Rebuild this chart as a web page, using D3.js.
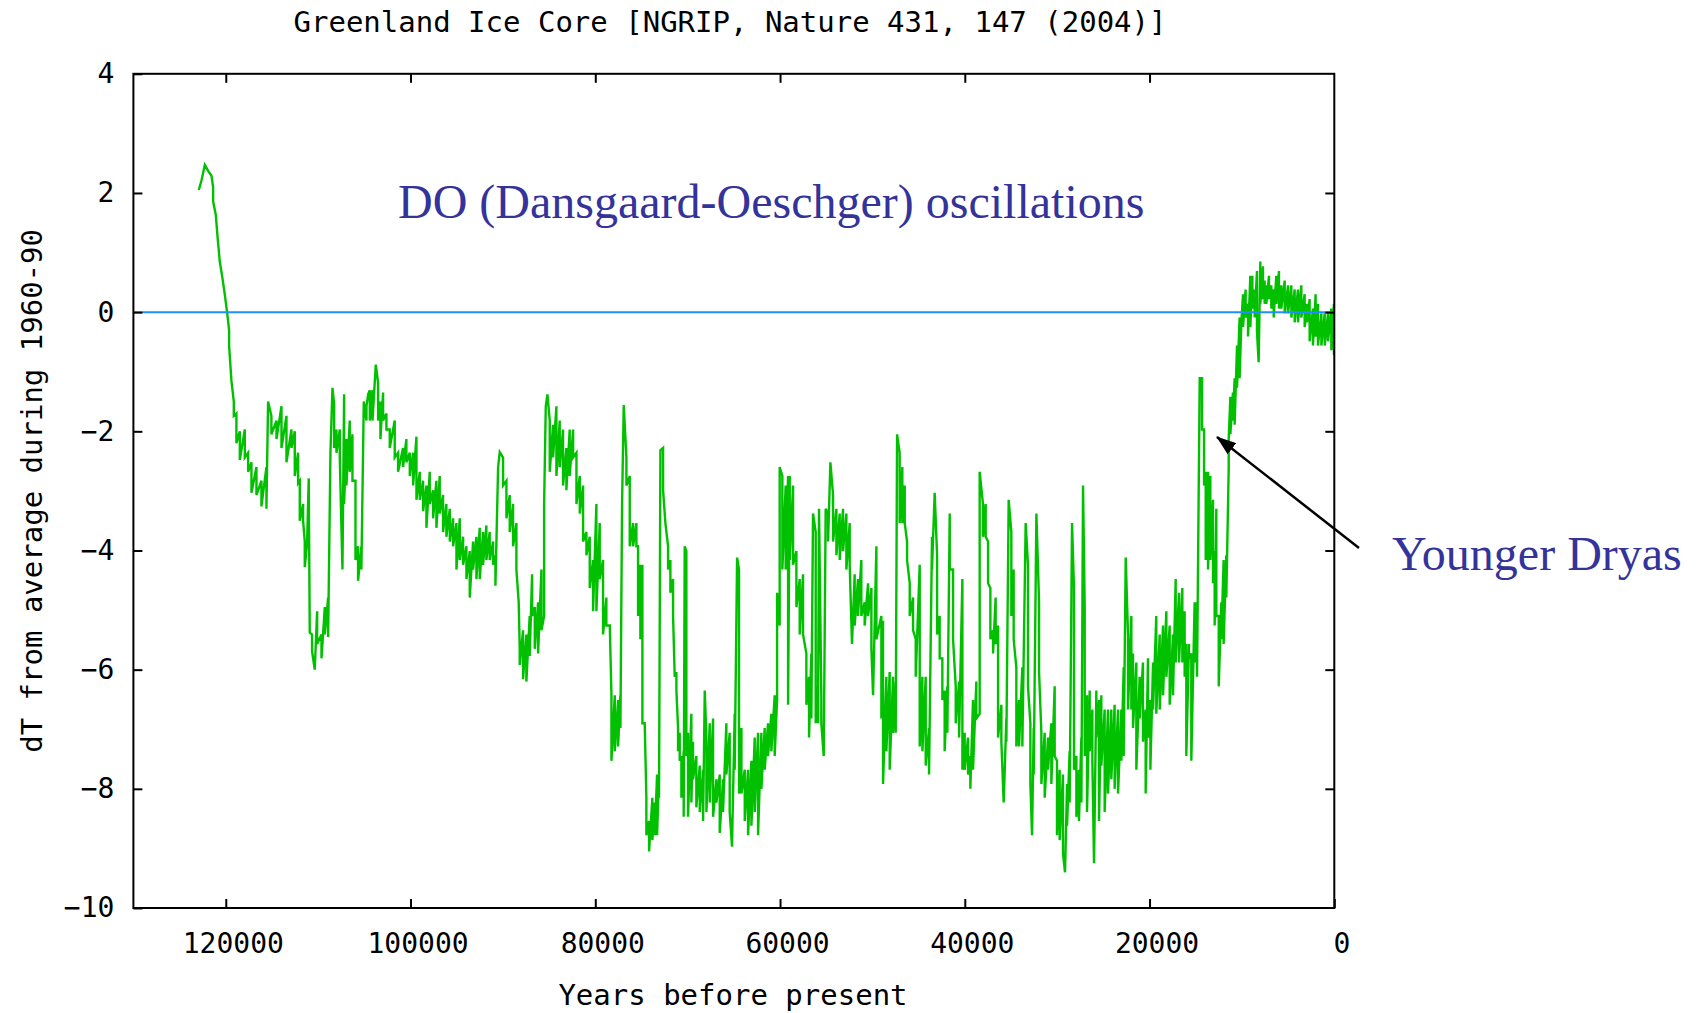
<!DOCTYPE html>
<html>
<head>
<meta charset="utf-8">
<script src="https://cdn.jsdelivr.net/npm/d3@7"></script>
<style>
  body { margin: 0; background: #fff; }
  svg { display: block; }
</style>
</head>
<body>
<svg id="chart" width="1701" height="1013"></svg>
<script>
// tick values for both axes
const xTicks = [120000, 100000, 80000, 60000, 40000, 20000, 0];
const yTicks = [4, 2, 0, -2, -4, -6, -8, -10];

// NGRIP record: [years before present, dT, (dT again where the trace swings)]
const dtSamples = [
  [122920, 2.05], [122630, 2.21], [122270, 2.47], [121910, 2.37], [121550, 2.29],
  [121370, 2.10, 1.86], [121080, 1.63], [120900, 1.28], [120650, 0.85], [120360, 0.57],
  [120110, 0.30], [119860, 0.0], [119640, -0.30, -0.56], [119390, -1.15], [119130, -1.50, -1.74],
  [118850, -1.70, -2.20], [118480, -2.00, -2.48], [117940, -1.97, -2.44], [117580, -2.36, -2.68],
  [117220, -2.52, -3.03], [116680, -2.60, -3.07], [116140, -2.83, -3.26], [115600, -2.60, -3.30],
  [115420, -1.50], [115060, -1.74, -2.05], [114510, -1.82, -2.13], [113970, -1.58, -2.28],
  [113430, -1.74, -2.52], [112890, -1.97, -2.28], [112530, -2.00, -2.75], [112170, -2.36, -2.87],
  [111990, -2.83, -3.50], [111630, -3.22, -3.50], [111450, -3.85, -4.28], [111200, -3.89],
  [111020, -2.79], [110910, -5.38], [110660, -5.41, -5.69], [110370, -6.00], [110110, -5.02, -5.57],
  [109640, -5.41, -5.81], [109280, -4.95, -5.41], [108920, -4.79, -5.45], [108670, -2.36],
  [108450, -1.27], [108270, -1.54, -2.28], [108020, -1.97, -2.36], [107660, -1.97, -2.44],
  [107370, -4.32], [107190, -1.38, -3.22], [106940, -2.13, -2.91], [106580, -1.82, -2.68],
  [106290, -2.05, -2.83], [105960, -2.83, -4.16], [105680, -3.93, -4.51], [105320, -3.93, -4.32],
  [105060, -1.50], [104770, -1.82, -1.58], [104590, -1.38], [104410, -1.31, -1.82],
  [104120, -1.31, -1.82], [103760, -0.88], [103510, -1.19, -1.82], [103260, -1.50, -2.13],
  [102970, -1.35, -1.82], [102610, -1.70, -1.97], [102250, -1.97, -2.28], [101710, -1.82, -2.44],
  [101350, -2.36, -2.68], [100810, -2.28, -2.60], [100450, -2.13, -2.52], [100080, -2.36, -2.75],
  [99720, -2.36, -2.91], [99360, -2.09, -3.15], [99000, -2.68, -3.15], [98640, -2.83, -3.34],
  [98280, -2.91, -3.62], [97920, -2.68, -3.22], [97560, -2.99, -3.46], [97200, -2.83, -3.62],
  [96840, -2.75, -3.38], [96480, -3.07, -3.69], [96120, -3.22, -3.77], [95750, -3.30, -3.85],
  [95390, -3.46, -3.93], [95030, -3.54, -4.32], [94670, -3.46, -4.16], [94310, -3.77, -4.24],
  [93950, -3.93, -4.48], [93590, -4.01, -4.79], [93230, -3.85, -4.32], [92870, -3.77, -4.48],
  [92510, -3.62, -4.48], [92150, -3.69, -4.24], [91790, -3.58, -4.16], [91430, -3.69, -4.16],
  [91060, -3.85, -4.24], [90810, -4.08, -4.59], [90520, -2.60], [90340, -2.35],
  [89980, -2.44, -2.91], [89620, -2.83, -3.46], [89260, -3.07, -3.69], [88900, -3.22, -3.93],
  [88540, -3.54, -4.32], [88290, -4.87], [88180, -5.65, -5.92], [87820, -5.34, -6.16],
  [87460, -5.41, -6.20], [87100, -5.10, -5.77], [86840, -4.40, -5.10], [86550, -4.95, -5.65],
  [86190, -4.87, -5.73], [85830, -4.32, -5.34], [85540, -5.10, -3.22], [85360, -1.58],
  [85180, -1.38], [84930, -1.82, -2.68], [84570, -1.89, -2.44], [84210, -1.58, -2.75],
  [83850, -1.82, -2.60], [83490, -1.97, -2.91], [83130, -2.28, -2.99], [82770, -1.97, -2.75],
  [82400, -1.97, -2.44], [82040, -2.36, -3.22], [81680, -2.75, -3.38], [81320, -2.91, -3.85],
  [80960, -3.69, -4.08], [80600, -3.77, -4.63], [80240, -4.16, -5.02], [79880, -3.22, -5.02],
  [79520, -3.54, -4.48], [79160, -4.16, -5.41], [78800, -4.79, -5.26], [78430, -5.26],
  [78250, -6.43, -7.53], [77890, -6.43, -7.37], [77530, -6.51, -7.29], [77280, -6.43, -6.98],
  [77100, -3.22], [76920, -1.56], [76630, -2.44, -2.91], [76270, -2.75, -3.93],
  [75910, -3.54, -3.93], [75550, -3.54, -3.93], [75370, -3.93, -5.10], [75120, -4.24, -5.49],
  [74900, -4.24, -6.90], [74650, -6.90], [74470, -8.15, -8.78], [74180, -8.54, -9.05],
  [73820, -8.15, -8.86], [73560, -8.23, -8.78], [73310, -7.76, -8.78], [73100, -7.76, -8.15],
  [72950, -2.32], [72660, -2.28, -2.99], [72410, -3.54], [72120, -3.93, -4.32],
  [71870, -4.16, -4.71], [71580, -4.48, -5.10], [71400, -6.12], [71220, -6.04, -6.35],
  [71040, -6.98, -7.37], [70860, -7.06, -7.53], [70680, -7.45, -8.15], [70430, -7.37, -8.47],
  [70320, -3.93], [70140, -4.01, -7.45], [69960, -7.06, -8.47], [69600, -6.74, -8.23],
  [69420, -7.21, -7.84], [69060, -7.45, -8.31], [68690, -7.61, -8.39], [68330, -7.68, -8.54],
  [68150, -6.35], [67970, -7.14, -8.39], [67610, -6.90, -8.23], [67250, -6.82, -8.47],
  [66890, -7.84, -8.23], [66530, -7.76, -8.74], [66170, -7.84, -8.39], [65810, -6.90, -7.76],
  [65450, -7.06, -8.39], [65200, -8.97], [64910, -6.74, -7.68], [64650, -4.12],
  [64440, -4.32, -8.08], [64180, -6.98, -8.08], [63820, -7.68, -8.54], [63460, -7.68, -8.78],
  [63100, -7.53, -8.62], [62740, -7.14, -8.39], [62380, -7.06, -8.78], [62020, -7.06, -8.00],
  [61660, -6.98, -7.68], [61300, -6.90, -7.45], [60940, -6.74, -7.37], [60580, -6.43, -7.45],
  [60320, -6.51, -4.71], [60040, -5.26, -2.60], [59750, -2.75, -4.32], [59390, -2.91, -4.32],
  [59130, -2.75, -6.59], [58950, -2.75, -4.16], [58590, -2.91, -4.24], [58230, -4.01, -4.95],
  [57870, -4.48, -5.41], [57510, -4.40, -5.41], [57150, -5.73, -6.59], [56860, -6.12, -7.14],
  [56610, -5.73, -6.82], [56430, -3.38], [56140, -3.69, -6.90], [55890, -6.28, -6.90],
  [55780, -3.30], [55530, -6.43, -6.90], [55270, -7.45], [55060, -3.30], [54800, -3.38, -3.85],
  [54550, -2.52], [54260, -3.07, -3.85], [53900, -3.30, -4.08], [53540, -3.38, -4.16],
  [53180, -3.30, -4.01], [52820, -3.38, -4.32], [52460, -3.54, -4.24], [52210, -5.57],
  [51920, -4.40, -5.26], [51560, -4.48, -5.10], [51200, -4.16, -5.10], [50840, -4.87, -5.26],
  [50470, -4.55, -5.10], [50110, -4.63, -5.65], [49930, -6.43], [49570, -3.93, -5.49],
  [49030, -5.10, -6.82], [48850, -5.18, -7.92], [48490, -6.12, -7.37], [48130, -6.04, -7.68],
  [47770, -6.12, -7.06], [47480, -6.20, -7.06], [47330, -2.05], [47050, -2.36, -3.54],
  [46760, -2.60, -3.54], [46500, -2.91, -3.54], [46250, -3.85, -4.16], [45960, -4.55, -5.10],
  [45600, -4.79, -5.34], [45310, -5.49, -6.12], [44880, -4.24, -7.29], [44590, -6.12, -7.37],
  [44230, -6.12, -7.61], [43870, -6.98, -7.76], [43550, -3.77, -4.32], [43260, -3.03],
  [43000, -4.08, -5.41], [42720, -5.10, -5.81], [42430, -5.81, -6.51], [42180, -6.35, -7.37],
  [41890, -6.28, -7.06], [41630, -3.38, -4.32], [41270, -4.32, -5.49], [40980, -6.28, -6.90],
  [40620, -6.20, -7.14], [40260, -4.48, -7.68], [40010, -7.06, -7.68], [39650, -7.14, -7.76],
  [39400, -7.45, -8.00], [39110, -6.51, -7.68], [38750, -6.20, -6.82], [38390, -6.74, -2.68],
  [38030, -3.22, -3.77], [37740, -3.22, -3.77], [37480, -3.85, -4.55], [37230, -4.63, -5.49],
  [36940, -5.34, -5.73], [36660, -4.79, -5.57], [36400, -5.26, -7.14], [36040, -6.59, -7.21],
  [35790, -8.23], [35500, -6.82, -7.21], [35250, -3.15], [34960, -3.69, -5.10],
  [34710, -4.32, -5.49], [34420, -5.96, -7.29], [34130, -6.51, -7.29], [33770, -5.96, -7.29],
  [33410, -3.54], [33160, -4.24, -6.28], [32900, -6.90, -7.92], [32720, -8.78],
  [32540, -6.98, -7.76], [32250, -3.38], [31960, -4.87, -6.04], [31710, -7.06, -7.92],
  [31350, -7.06, -8.15], [30990, -7.14, -7.68], [30630, -6.90, -7.92], [30270, -6.28, -7.45],
  [30020, -7.53, -8.78], [29730, -7.68, -8.86], [29370, -7.76, -9.09], [29150, -9.40],
  [28930, -7.92, -8.62], [28650, -7.37, -8.23], [28390, -3.54], [28180, -4.63, -7.68],
  [27920, -7.45, -8.47], [27640, -7.68, -8.54], [27380, -7.14, -8.23], [27200, -2.91],
  [27020, -4.95, -7.45], [26770, -6.43, -8.39], [26480, -6.35, -7.37], [26190, -6.67, -7.53],
  [26010, -9.25], [25760, -6.35, -7.14], [25470, -6.51, -8.54], [25220, -6.43, -7.61],
  [24860, -6.67, -8.39], [24500, -6.67, -8.08], [24140, -6.67, -7.84], [23780, -6.59, -8.00],
  [23410, -6.67, -8.08], [23050, -6.67, -7.53], [22800, -5.96, -7.45], [22580, -4.12],
  [22330, -5.41, -6.67], [21970, -5.10, -6.67], [21790, -5.73, -6.98], [21430, -5.88, -7.68],
  [21070, -6.12, -6.82], [20710, -5.88, -7.21], [20420, -6.67, -8.08], [20170, -5.81, -7.14],
  [19910, -6.51, -7.68], [19620, -5.88, -6.67], [19270, -5.10, -6.74], [18900, -5.41, -6.67],
  [18540, -5.26, -6.43], [18180, -5.02, -6.12], [17820, -5.26, -6.59], [17460, -5.41, -6.43],
  [17170, -4.48, -5.88], [16810, -4.71, -5.88], [16450, -4.63, -5.88], [16200, -5.02, -6.12],
  [16020, -5.57, -7.45], [15730, -5.57, -5.81], [15480, -5.73, -7.53], [15120, -4.87, -5.88],
  [14860, -4.87, -6.12], [14570, -1.11], [14320, -1.11, -1.97], [14100, -1.97, -2.91],
  [13920, -2.68, -4.16], [13670, -2.68, -4.32], [13420, -2.75, -4.16], [13130, -3.15, -4.55],
  [12950, -4.01, -5.26], [12770, -3.30, -5.10], [12510, -5.10, -6.28], [12230, -4.87, -5.49],
  [11980, -4.16, -5.57], [11690, -4.08, -4.79], [11430, -2.60, -2.13], [11250, -1.42, -2.05],
  [10970, -1.35, -1.82], [10790, -1.11, -1.89], [10530, -0.56, -1.27], [10250, -0.09, -1.11],
  [10060, -0.17], [9880, 0.30, -0.25], [9600, 0.38, -0.09], [9340, 0.14, -0.41],
  [9090, 0.61, -0.25], [8870, 0.61, 0.06], [8620, 0.38, -0.09], [8370, 0.69, -0.33],
  [8190, -0.84], [8010, 0.85, 0.14], [7720, 0.77, 0.22], [7540, 0.53, 0.14], [7360, 0.45, 0.14],
  [7070, 0.61, 0.22], [6820, 0.45, 0.06], [6560, 0.38, -0.09], [6280, 0.61, 0.14],
  [5990, 0.69, 0.06], [5740, 0.45, 0.06], [5370, 0.53, -0.02], [5010, 0.45, -0.02],
  [4650, 0.45, -0.09], [4290, 0.38, -0.17], [3930, 0.38, -0.17], [3570, 0.45, -0.09],
  [3210, 0.30, -0.25], [2960, 0.14, -0.17], [2670, 0.22, -0.49], [2310, 0.06, -0.56],
  [2020, 0.30, -0.41], [1770, 0.14, -0.56], [1400, -0.02, -0.56], [1040, -0.02, -0.56],
  [680, -0.02, -0.49], [320, 0.06, -0.64], [40, 0.14, -0.72]
];

const titleText = 'Greenland Ice Core [NGRIP, Nature 431, 147 (2004)]';
const xLabel = 'Years before present';
const yLabel = 'dT from average during 1960-90';

const svg = d3.select('#chart');
const monoFont = '"DejaVu Sans Mono", "Liberation Mono", monospace';
const serifFont = '"Liberation Serif", "Times New Roman", serif';

// plot box
const plotL = 133.4, plotR = 1334.3, plotT = 73.8, plotB = 908;

const x = d3.scaleLinear().domain([130000, 0]).range([plotL, plotR]);
const y = d3.scaleLinear().domain([-10, 4]).range([plotB, plotT]);

const defs = svg.append('defs');
defs.append('clipPath').attr('id', 'plotClip')
  .append('rect')
  .attr('x', plotL).attr('y', plotT)
  .attr('width', plotR - plotL).attr('height', plotB - plotT);

// green trace
const points = dtSamples.flatMap(([yr, ...vals]) => vals.map(v => [yr, v]));
const line = d3.line().x(d => x(d[0])).y(d => y(d[1]));

svg.append('path')
  .datum(points)
  .attr('clip-path', 'url(#plotClip)')
  .attr('fill', 'none')
  .attr('stroke', '#00c000')
  .attr('stroke-width', 2.4)
  .attr('d', line);

// zero line drawn on top of the trace
svg.append('line')
  .attr('x1', x(130000)).attr('x2', x(0))
  .attr('y1', y(0)).attr('y2', y(0))
  .attr('stroke', '#1f8fff')
  .attr('stroke-width', 2);

// axes, ticks pointing inward on all four sides
function styleAxis(g) {
  g.select('.domain').remove();
  g.selectAll('.tick line').attr('stroke', '#000').attr('stroke-width', 2);
  g.selectAll('.tick text')
    .attr('fill', '#000')
    .style('font-family', monoFont)
    .style('font-size', '28px');
}

svg.append('g')
  .attr('transform', `translate(0,${plotB})`)
  .call(d3.axisBottom(x).tickValues(xTicks).tickSize(-9).tickPadding(25).tickFormat(d3.format('d')))
  .call(styleAxis)
  .call(g => g.selectAll('.tick text').attr('dx', 7));

svg.append('g')
  .attr('transform', `translate(0,${plotT})`)
  .call(d3.axisTop(x).tickValues(xTicks.filter(d => d !== 0)).tickSize(-9).tickFormat(''))
  .call(styleAxis);

svg.append('g')
  .attr('transform', `translate(${plotL},0)`)
  .call(d3.axisLeft(y).tickValues(yTicks).tickSize(-9).tickPadding(19))
  .call(styleAxis);

svg.append('g')
  .attr('transform', `translate(${plotR},0)`)
  .call(d3.axisRight(y).tickValues(yTicks.filter(d => d !== 4 && d !== -10)).tickSize(-9).tickFormat(''))
  .call(styleAxis);

// frame
svg.append('rect')
  .attr('x', plotL).attr('y', plotT)
  .attr('width', plotR - plotL).attr('height', plotB - plotT)
  .attr('fill', 'none')
  .attr('stroke', '#000')
  .attr('stroke-width', 2);

// titles
svg.append('text')
  .attr('x', 730).attr('y', 32)
  .attr('text-anchor', 'middle')
  .style('font-family', monoFont).style('font-size', '29px')
  .text(titleText);

svg.append('text')
  .attr('x', 733).attr('y', 1005)
  .attr('text-anchor', 'middle')
  .style('font-family', monoFont).style('font-size', '29px')
  .text(xLabel);

svg.append('text')
  .attr('transform', `translate(42,${(plotT + plotB) / 2}) rotate(-90)`)
  .attr('text-anchor', 'middle')
  .style('font-family', monoFont).style('font-size', '29px')
  .text(yLabel);

// annotations
svg.append('text')
  .attr('x', 398).attr('y', 218)
  .style('font-family', serifFont).style('font-size', '48px')
  .attr('fill', '#333399')
  .text('DO (Dansgaard-Oeschger) oscillations');

svg.append('text')
  .attr('x', 1392).attr('y', 570)
  .style('font-family', serifFont).style('font-size', '48px')
  .attr('fill', '#333399')
  .text('Younger Dryas');

defs.append('marker')
  .attr('id', 'arrowHead')
  .attr('markerUnits', 'userSpaceOnUse')
  .attr('markerWidth', 20).attr('markerHeight', 14)
  .attr('refX', 19).attr('refY', 7)
  .attr('orient', 'auto')
  .append('path')
  .attr('d', 'M0,0 L20,7 L0,14 Z')
  .attr('fill', '#000');

svg.append('line')
  .attr('x1', 1359).attr('y1', 548)
  .attr('x2', 1217).attr('y2', 437)
  .attr('stroke', '#000')
  .attr('stroke-width', 2.5)
  .attr('marker-end', 'url(#arrowHead)');
</script>
</body>
</html>
